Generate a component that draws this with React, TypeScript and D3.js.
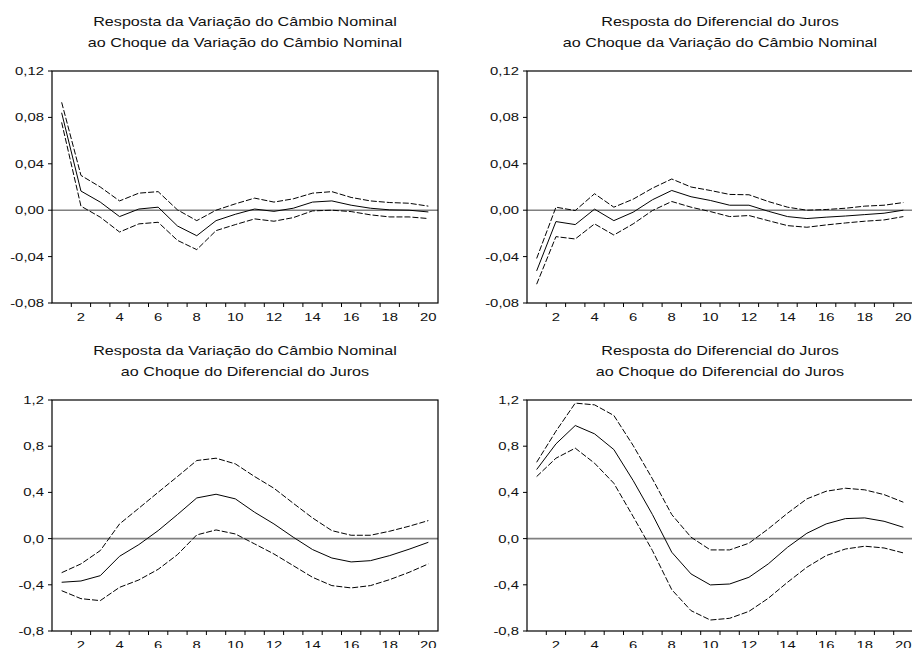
import React from 'react';
import * as d3 from 'd3';

// horizon 1..20
const steps = d3.range(1, 21);
const xTickLabels = [2, 4, 6, 8, 10, 12, 14, 16, 18, 20];

const titleCC = ['Resposta da Variação do Câmbio Nominal', 'ao Choque da Variação do Câmbio Nominal'];
const titleJC = ['Resposta do Diferencial do Juros', 'ao Choque da Variação do Câmbio Nominal'];
const titleCJ = ['Resposta da Variação do Câmbio Nominal', 'ao Choque do Diferencial do Juros'];
const titleJJ = ['Resposta do Diferencial do Juros', 'ao Choque do Diferencial do Juros'];

const yTicksTop = [-0.08, -0.04, 0, 0.04, 0.08, 0.12];
const yTicksBottom = [-0.8, -0.4, 0, 0.4, 0.8, 1.2];

// cambio -> cambio
const ccMid = [0.084, 0.0165, 0.007, -0.0055, 0.001, 0.0026, -0.0136, -0.022, -0.009, -0.0035, 0.001, -0.001, 0.0017, 0.007, 0.008, 0.0043, 0.0017, 0.0003, 0.0, -0.0015];
const ccUp = [0.093, 0.03, 0.02, 0.008, 0.0147, 0.016, 0.0003, -0.009, 0.0, 0.0055, 0.0104, 0.007, 0.0098, 0.0147, 0.016, 0.011, 0.008, 0.0066, 0.006, 0.0035];
const ccLo = [0.0757, 0.0035, -0.006, -0.0188, -0.0118, -0.0104, -0.026, -0.034, -0.0176, -0.0124, -0.0075, -0.0095, -0.0064, -0.0006, 0.0, -0.0012, -0.004, -0.0058, -0.0058, -0.0072];

// juros <- cambio
const jcMid = [-0.0523, -0.0098, -0.0124, 0.0009, -0.009, -0.0017, 0.009, 0.017, 0.0116, 0.0084, 0.0043, 0.0043, -0.0009, -0.0055, -0.0072, -0.006, -0.005, -0.0038, -0.0026, 0.0];
const jcUp = [-0.0416, 0.0026, -0.0003, 0.0142, 0.0026, 0.0095, 0.019, 0.0269, 0.02, 0.017, 0.0136, 0.0133, 0.0075, 0.0026, 0.0, 0.0006, 0.0017, 0.0035, 0.0043, 0.0066];
const jcLo = [-0.0638, -0.0228, -0.0248, -0.0118, -0.0214, -0.0118, -0.0003, 0.0075, 0.0026, -0.0012, -0.0055, -0.0046, -0.009, -0.0133, -0.0147, -0.0127, -0.011, -0.0095, -0.0084, -0.0055];

// cambio <- juros
const cjMid = [-0.378, -0.367, -0.321, -0.153, -0.052, 0.069, 0.208, 0.352, 0.384, 0.344, 0.228, 0.127, 0.012, -0.095, -0.168, -0.202, -0.191, -0.147, -0.092, -0.032];
const cjUp = [-0.295, -0.219, -0.104, 0.127, 0.263, 0.401, 0.537, 0.676, 0.696, 0.647, 0.537, 0.436, 0.306, 0.179, 0.069, 0.029, 0.029, 0.064, 0.107, 0.156];
const cjLo = [-0.451, -0.52, -0.537, -0.422, -0.358, -0.266, -0.139, 0.032, 0.075, 0.04, -0.046, -0.133, -0.234, -0.335, -0.407, -0.427, -0.407, -0.355, -0.292, -0.219];

// juros <- juros
const jjMid = [0.598, 0.82, 0.979, 0.907, 0.771, 0.503, 0.208, -0.118, -0.306, -0.401, -0.393, -0.335, -0.219, -0.075, 0.046, 0.127, 0.173, 0.179, 0.15, 0.098];
const jjUp = [0.661, 0.93, 1.173, 1.158, 1.066, 0.806, 0.517, 0.208, 0.012, -0.098, -0.098, -0.04, 0.084, 0.22, 0.344, 0.41, 0.436, 0.422, 0.381, 0.315];
const jjLo = [0.537, 0.696, 0.783, 0.653, 0.479, 0.191, -0.104, -0.442, -0.624, -0.705, -0.69, -0.63, -0.517, -0.378, -0.248, -0.147, -0.09, -0.066, -0.081, -0.124];

const locale = d3.formatLocale({ decimal: ',', thousands: '.', grouping: [3], currency: ['R$', ''], minus: '-' });

const FONT = '"Liberation Sans", Arial, sans-serif';
const SX = 1.28; // text in the reference is stretched horizontally

type PanelProps = {
  left: number; top: number; width: number; height: number;
  title: string[]; ticks: number[]; fmt: string;
  mid: number[]; up: number[]; lo: number[];
};

const Label = ({ x, y, anchor, size, children }: any) => (
  <text transform={`translate(${x},${y}) scale(${SX},1)`} textAnchor={anchor} fontSize={size} fontFamily={FONT} fill="#111">
    {children}
  </text>
);

const Panel = ({ left, top, width, height, title, ticks, fmt, mid, up, lo }: PanelProps) => {
  const x = d3.scaleLinear().domain([0.5, 20.5]).range([left, left + width]);
  const y = d3.scaleLinear().domain([ticks[0], ticks[ticks.length - 1]]).range([top + height, top]);
  const line = d3.line<number>().x((_, i) => x(steps[i])).y(d => y(d));
  const f = locale.format(fmt);
  const bottom = top + height;
  const cx = left + width / 2;
  const bounds = d3.range(1.5, 20.5, 1);

  return (
    <g>
      <Label x={cx} y={top - 45} anchor="middle" size={12.6}>{title[0]}</Label>
      <Label x={cx} y={top - 24} anchor="middle" size={12.6}>{title[1]}</Label>

      <line x1={left} x2={left + width} y1={y(0)} y2={y(0)} stroke="#808080" strokeWidth={1.6} />

      <path d={line(up) || ''} fill="none" stroke="#000" strokeWidth={1} strokeDasharray="6 2" />
      <path d={line(lo) || ''} fill="none" stroke="#000" strokeWidth={1} strokeDasharray="6 2" />
      <path d={line(mid) || ''} fill="none" stroke="#000" strokeWidth={1} />

      <rect x={left} y={top} width={width} height={height} fill="none" stroke="#000" strokeWidth={1.2} />

      {ticks.map(t => (
        <g key={t}>
          <line x1={left - 4} x2={left} y1={y(t)} y2={y(t)} stroke="#000" strokeWidth={1} />
          <Label x={left - 8} y={y(t) + 4} anchor="end" size={11.6}>{f(t)}</Label>
        </g>
      ))}

      {bounds.map(b => (
        <line key={b} x1={x(b)} x2={x(b)} y1={bottom} y2={bottom + 4} stroke="#000" strokeWidth={1} />
      ))}
      {xTickLabels.map(t => (
        <Label key={t} x={x(t)} y={bottom + 18} anchor="middle" size={11.6}>{t}</Label>
      ))}
    </g>
  );
};

export default function App() {
  const w = 386;
  const h = 232;
  return (
    <svg width={912} height={648} style={{ position: 'absolute', left: 0, top: 0, background: '#fff' }}>
      <Panel left={52} top={71} width={w} height={h} title={titleCC} ticks={yTicksTop} fmt=".2f" mid={ccMid} up={ccUp} lo={ccLo} />
      <Panel left={527} top={71} width={w} height={h} title={titleJC} ticks={yTicksTop} fmt=".2f" mid={jcMid} up={jcUp} lo={jcLo} />
      <Panel left={52} top={400} width={w} height={231} title={titleCJ} ticks={yTicksBottom} fmt=".1f" mid={cjMid} up={cjUp} lo={cjLo} />
      <Panel left={527} top={400} width={w} height={231} title={titleJJ} ticks={yTicksBottom} fmt=".1f" mid={jjMid} up={jjUp} lo={jjLo} />
    </svg>
  );
}
